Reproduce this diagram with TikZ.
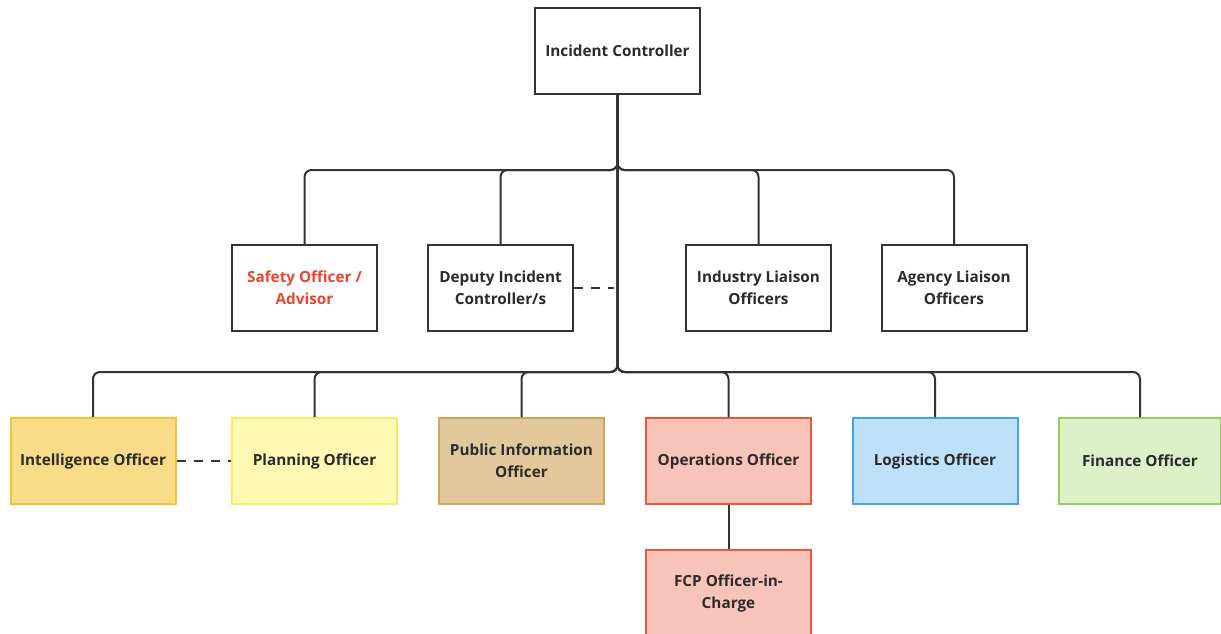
\documentclass[tikz,border=0pt]{standalone}
\usepackage{fontspec}
\setmainfont{Open Sans}
\usetikzlibrary{calc}
\definecolor{ink}{HTML}{2B2B2B}
\definecolor{wire}{HTML}{333333}
\definecolor{safetyred}{HTML}{E6472E}
\definecolor{intfill}{HTML}{F8DC88}\definecolor{intdraw}{HTML}{F4C235}
\definecolor{planfill}{HTML}{FEF8B4}\definecolor{plandraw}{HTML}{F8EA66}
\definecolor{pubfill}{HTML}{E3C89B}\definecolor{pubdraw}{HTML}{CFA45E}
\definecolor{opsfill}{HTML}{F8C4BA}\definecolor{opsdraw}{HTML}{E8583F}
\definecolor{logfill}{HTML}{BEE0F8}\definecolor{logdraw}{HTML}{47A3E8}
\definecolor{finfill}{HTML}{DDF0C8}\definecolor{findraw}{HTML}{92D060}
\tikzset{
  role/.style={draw=wire, line width=2pt, fill=white, rectangle,
    minimum width=145pt, minimum height=86pt, inner sep=2pt,
    align=center, text=ink,
    font=\fontsize{15.3}{22}\selectfont\bfseries},
  widerole/.style={role, minimum width=165pt},
  conn/.style={draw=wire, line width=2pt, rounded corners=7pt},
  link/.style={draw=wire, line width=2pt, dash pattern=on 9pt off 8pt},
}
\begin{document}
\begin{tikzpicture}[x=1pt,y=-1pt]
\useasboundingbox (0,0) rectangle (1221,633);

% top level
\node[widerole] (ic) at (617.5,50.5) {Incident Controller};

% bus levels below the controller
\coordinate (bus1) at (617.5,170);
\coordinate (bus2) at (617.5,372);

% second row
\node[role, text=safetyred] (safety) at (304.5,288) {Safety Officer /\\Advisor};
\node[role] (deputy) at (500.5,288) {Deputy Incident\\Controller/s};
\node[role] (industry) at (758.5,288) {Industry Liaison\\Officers};
\node[role] (agency) at (954,288) {Agency Liaison\\Officers};

% third row
\node[widerole, fill=intfill, draw=intdraw] (intel) at (93,461) {Intelligence Officer};
\node[widerole, fill=planfill, draw=plandraw] (plan) at (314.5,461) {Planning Officer};
\node[widerole, fill=pubfill, draw=pubdraw] (pub) at (521.5,461) {Public Information\\Officer};
\node[widerole, fill=opsfill, draw=opsdraw] (ops) at (728.5,461) {Operations Officer};
\node[widerole, fill=logfill, draw=logdraw] (logi) at (935,461) {Logistics Officer};
\node[widerole, fill=finfill, draw=findraw, minimum width=162pt] (fin) at (1140,461) {Finance Officer};

% field command post
\node[widerole, fill=opsfill, draw=opsdraw] (fcp) at (728.5,593) {FCP Officer-in-\\Charge};

% reporting lines to the second row
\foreach \n in {safety,deputy,industry,agency}
  \path[conn] (ic.south) -- (bus1) -- (bus1 -| \n.north) -- (\n.north);

% reporting lines to the third row
\foreach \n in {intel,plan,pub,ops,logi,fin}
  \path[conn] (ic.south) -- (bus2) -- (bus2 -| \n.north) -- (\n.north);

\draw[conn] (ops.south) -- (fcp.north);

% dashed liaison links
\coordinate (dep-end) at (614,288);
\path[link] (deputy.east) -- (dep-end);
\path[link] (intel.east) -- (plan.west);
\end{tikzpicture}
\end{document}
